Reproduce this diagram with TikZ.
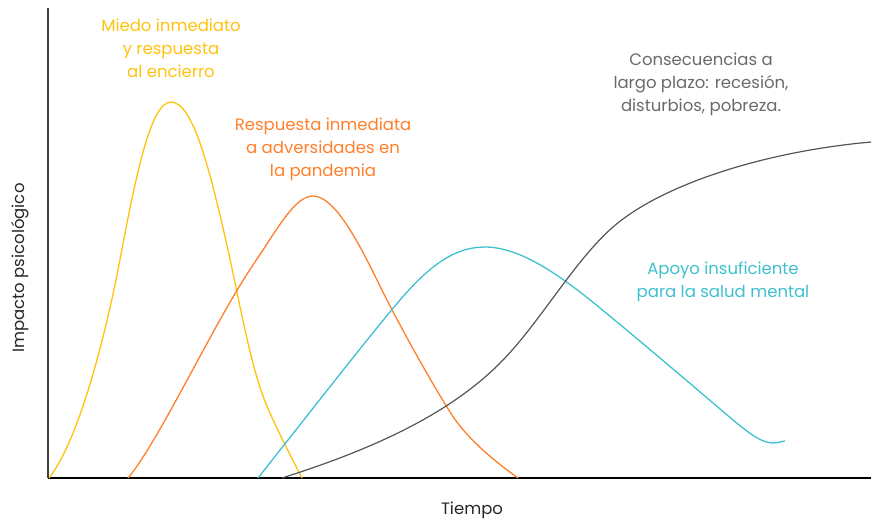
\documentclass[tikz,border=0pt]{standalone}
\usepackage{fontspec}
\setmainfont{Poppins}
\definecolor{cyel}{HTML}{FFC20E}
\definecolor{cora}{HTML}{FF7F2A}
\definecolor{ctea}{HTML}{3EC0CF}
\definecolor{cgry}{HTML}{555555}
\definecolor{ctxt}{HTML}{6A6A6A}
\tikzset{
  curve/.style={line width=1.3pt, line join=round},
  lbl/.style={align=center, font=\fontsize{16.5}{23}\selectfont, inner sep=0pt},
  axis/.style={line width=2pt}
}
\begin{document}
\begin{tikzpicture}[x=1pt,y=-1pt]
\useasboundingbox (0,0) rectangle (875,520);
\coordinate (o) at (48,478);
\coordinate (ytop) at (48,8);
\coordinate (xend) at (871,478);
\draw[axis, draw=black!75] (ytop) -- (o);
\draw[axis, draw=black] (o) -- (xend);
% yellow
\draw[curve, draw=cyel] (49,478) .. controls (75,445) and (100,360) .. (118,270)
  .. controls (135,180) and (150,102) .. (171,102)
  .. controls (193,102) and (210,170) .. (228,250)
  .. controls (240,305) and (250,360) .. (262,393)
  .. controls (268,412) and (290,455) .. (302,478);
% orange
\draw[curve, draw=cora] (128,478) .. controls (160,440) and (215,320) .. (255,262)
  .. controls (278,228) and (295,196) .. (313,196)
  .. controls (333,196) and (355,235) .. (377,280)
  .. controls (400,327) and (430,380) .. (450,412)
  .. controls (465,436) and (490,458) .. (518,478);
% teal
\draw[curve, draw=ctea] (258,478) .. controls (300,425) and (370,335) .. (400,300)
  .. controls (430,265) and (455,247) .. (485,247)
  .. controls (520,247) and (560,275) .. (600,308)
  .. controls (650,349) and (700,392) .. (733,420)
  .. controls (750,434) and (762,443) .. (773,443)
  .. controls (779,443) and (782,441) .. (785,441);
% gray
\draw[curve, draw=cgry, line width=1.2pt] (282,478) .. controls (370,450) and (450,415) .. (503,360)
  .. controls (540,322) and (575,260) .. (613,227)
  .. controls (660,186) and (760,152) .. (871,142);
% labels
\node[lbl, text=cyel] (ly) at (171,48) {Miedo inmediato\\y respuesta\\al encierro};
\node[lbl, text=cora] (lo) at (323,149) {Respuesta inmediata\\a adversidades en\\la pandemia};
\node[lbl, text=ctxt] (lg) at (701,84) {Consecuencias a\\largo plazo: recesión,\\disturbios, pobreza.};
\node[lbl, text=ctea] (lt) at (723,282) {Apoyo insuficiente\\para la salud mental};
\node[lbl, text=black!85] (lx) at (472,510) {Tiempo};
\node[lbl, text=black!85, rotate=90] (ly2) at (20,268) {Impacto psicológico};
\end{tikzpicture}
\end{document}
